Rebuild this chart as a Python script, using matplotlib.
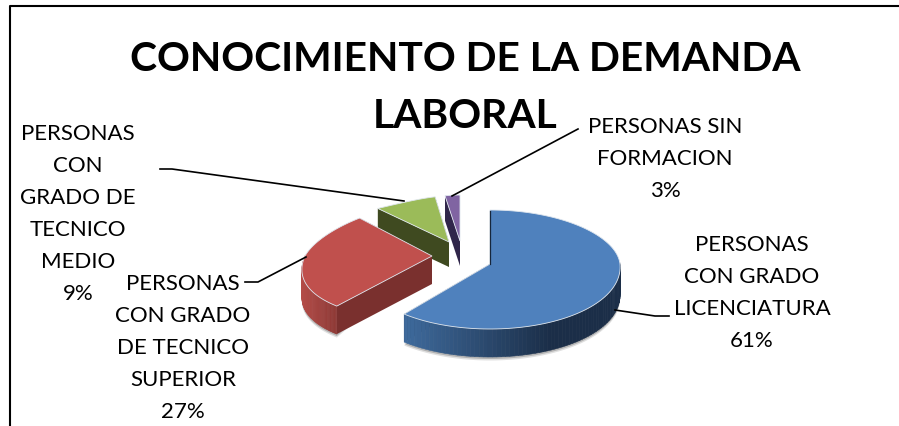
import math
import numpy as np
import matplotlib
matplotlib.use('Agg')
import matplotlib.pyplot as plt

plt.rcParams['font.family'] = ['Lato', 'DejaVu Sans']

W, H = 899, 427

title = "CONOCIMIENTO DE LA DEMANDA\nLABORAL"
categories = ['PERSONAS\nCON GRADO\nLICENCIATURA', 'PERSONAS\nCON GRADO\nDE TECNICO\nSUPERIOR',
              'PERSONAS\nCON\nGRADO DE\nTECNICO\nMEDIO', 'PERSONAS SIN\nFORMACION']
values = [61, 27, 9, 3]

top_colors = ['#4f81bd', '#c0504d', '#9bbb59', '#8064a2']
side_light = ['#3e6a9c', '#b34c48', '#3f4a20', '#30264a']
side_dark = ['#1b2e48', '#8a3633', '#3f4a20', '#30264a']
face_colors = ['#16263c', '#7a302e', '#3f4a20', '#30264a']

# apex px, rx at y=0, rx tilt, ry back, ry front, depth
slices = [
    (490, 265, 130, -6, 54, 65, 28),
    (432, 257, 127, -29, 52, 65, 28),
    (449, 243, 190, -118, 46, 46, 25),
    (460, 242, 80, 0, 46, 46, 25),
]

label_pos = [(752, 293), (183, 348), (78, 214), (665, 159)]

leaders = [
    ([615, 655, 669], [311, 317, 317]),
    ([245, 258, 306], [283, 283, 258]),
    ([160, 172, 404], [170, 170, 202]),
    ([452, 578], [197, 130]),
]


def project(s, x, y):
    ax0, ay0, rx, kx, ry_b, ry_f, _ = s
    px = ax0 + x * (rx + kx * y)
    py = ay0 - y * (ry_b if y > 0 else ry_f)
    return px, py


def blend(c1, c2, t):
    a = np.array(matplotlib.colors.to_rgb(c1))
    b = np.array(matplotlib.colors.to_rgb(c2))
    return tuple(a + (b - a) * t)


def draw_slice(ax, s, t1, t2, i, z):
    depth = s[6]
    th = np.radians(np.linspace(t1, t2, 120))
    pts = [project(s, math.cos(t), math.sin(t)) for t in th]
    xs = [p[0] for p in pts]
    ys = [p[1] for p in pts]
    apex = (s[0], s[1])

    # soft shadow under the rim
    front = [(x, y) for x, y, t in zip(xs, ys, th) if math.sin(t) <= 0.02]
    if front:
        for off, alpha in ((3.5, 0.12), (2, 0.2)):
            fx = [p[0] for p in front]
            fy = [p[1] + depth + off for p in front]
            ax.fill(fx + [apex[0]], fy + [apex[1]], color='black', alpha=alpha, lw=0, zorder=z)

    # flat cut faces
    for px, py in (pts[0], pts[-1]):
        ax.fill([apex[0], px, px, apex[0]], [apex[1], py, py + depth, apex[1] + depth],
                color=face_colors[i], lw=0, zorder=z + 1)

    # curved rim, front part only
    x0, x1 = min(xs), max(xs)
    for j in range(len(pts) - 1):
        if math.sin(th[j]) > 0.02:
            continue
        t = min((xs[j] - x0) / max(x1 - x0, 1) * 1.5, 1)
        c = blend(side_light[i], side_dark[i], t)
        ax.fill([xs[j], xs[j + 1], xs[j + 1], xs[j]],
                [ys[j], ys[j + 1], ys[j + 1] + depth, ys[j] + depth],
                color=c, ec=c, lw=0.4, zorder=z + 2)

    ax.fill([apex[0]] + xs, [apex[1]] + ys, facecolor=top_colors[i], edgecolor='#dfe6ee',
            lw=0.6, zorder=z + 3)


def plot_chart():
    fig = plt.figure(figsize=(W / 100, H / 100), dpi=100)
    ax = fig.add_axes([0, 0, 1, 1])
    ax.set_xlim(0, W)
    ax.set_ylim(H, 0)
    ax.axis('off')

    # frame of the chart, open on the right
    ax.plot([10, 10, W], [H, 6.5, 6.5], color='black', lw=1.5, zorder=1)

    angle = 90.0
    total = sum(values)
    angles = []
    for v in values:
        sweep = 360.0 * v / total
        angles.append((angle - sweep, angle))
        angle -= sweep

    z = 2
    for i in [3, 2, 1, 0]:
        draw_slice(ax, slices[i], angles[i][0], angles[i][1], i, z)
        z += 4

    # dark sliver along the back cut of the big slice
    ax.plot([490, 490], [212, 265], color='#16263c', lw=0.9, zorder=z)

    for lx, ly in leaders:
        ax.plot(lx, ly, color='black', lw=1.2, zorder=30)

    for cat, v, p in zip(categories, values, label_pos):
        ax.text(p[0], p[1], f'{cat}\n{v}%', ha='center', va='center', fontsize=16, linespacing=1.76,
                color='black', zorder=40)

    ax.text(465, 88, title, ha='center', va='center', fontsize=29.3, fontweight='bold',
            linespacing=1.65, color='black', zorder=40)

    fig.savefig('out.png', dpi=100, facecolor='white')


if __name__ == "__main__":
    plot_chart()
